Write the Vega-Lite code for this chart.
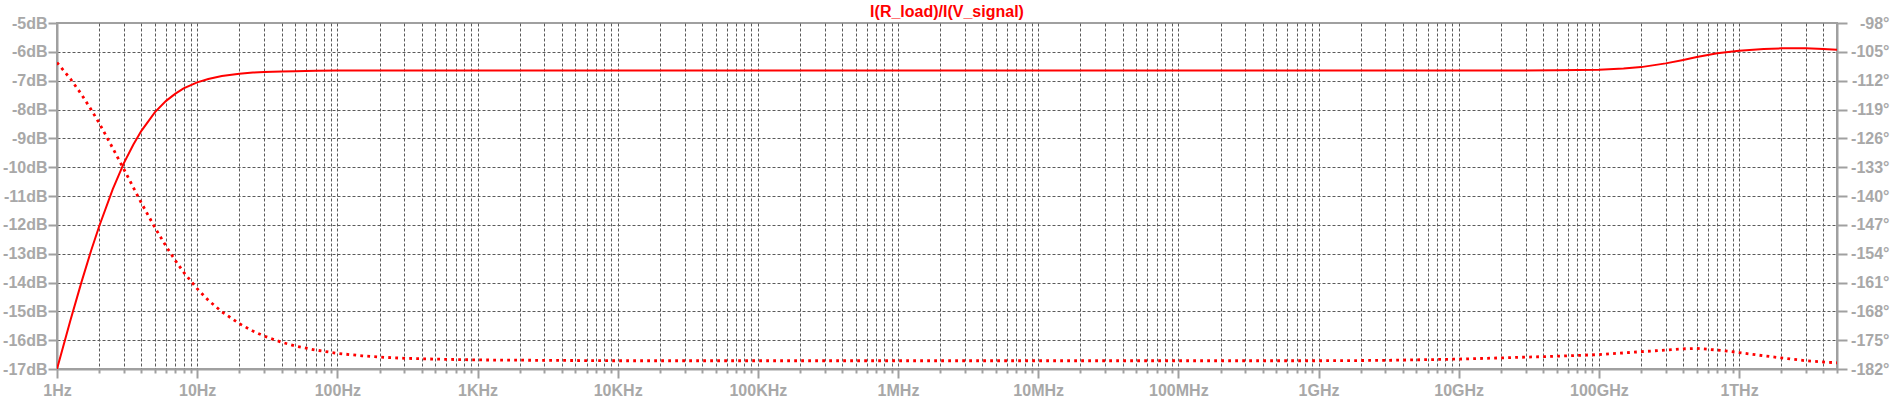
{
  "$schema": "https://vega.github.io/schema/vega-lite/v6.json",
  "width": 1780,
  "height": 346,
  "autosize": {"type": "none"},
  "padding": {"left": 57, "top": 23, "right": 61, "bottom": 32},
  "background": "white",
  "title": {
    "text": "I(R_load)/I(V_signal)",
    "color": "#ff0000",
    "font": "Liberation Sans",
    "fontSize": 16,
    "fontWeight": "bold",
    "anchor": "middle",
    "frame": "group",
    "offset": -5
  },
  "config": {
    "view": {"stroke": "#a0a0a0", "strokeWidth": 2},
    "axis": {
      "labelFont": "Liberation Sans",
      "labelFontSize": 16,
      "labelFontWeight": "bold",
      "labelColor": "#a8a8a8",
      "domainColor": "#a0a0a0",
      "domainWidth": 2,
      "tickColor": "#a0a0a0",
      "tickWidth": 2,
      "gridColor": "#5a5a5a",
      "gridDash": [3, 2],
      "gridWidth": 1,
      "title": null,
      "labelOverlap": false,
      "labelFlush": false
    }
  },
  "data": {
    "values": [
      {"f": 1, "mag": -17.0, "phase": -107.6},
      {"f": 1.25, "mag": -15.29, "phase": -111.6},
      {"f": 1.5, "mag": -13.96, "phase": -115.4},
      {"f": 1.75, "mag": -12.9, "phase": -119.0},
      {"f": 2, "mag": -12.05, "phase": -122.3},
      {"f": 2.5, "mag": -10.76, "phase": -128.4},
      {"f": 3, "mag": -9.86, "phase": -133.5},
      {"f": 3.5, "mag": -9.22, "phase": -137.9},
      {"f": 4, "mag": -8.74, "phase": -141.7},
      {"f": 5, "mag": -8.09, "phase": -147.7},
      {"f": 6, "mag": -7.7, "phase": -152.2},
      {"f": 7, "mag": -7.45, "phase": -155.7},
      {"f": 8, "mag": -7.27, "phase": -158.5},
      {"f": 10, "mag": -7.06, "phase": -162.5},
      {"f": 12, "mag": -6.94, "phase": -165.3},
      {"f": 15, "mag": -6.84, "phase": -168.1},
      {"f": 20, "mag": -6.76, "phase": -171.0},
      {"f": 25, "mag": -6.72, "phase": -172.8},
      {"f": 30, "mag": -6.7, "phase": -174.0},
      {"f": 40, "mag": -6.68, "phase": -175.5},
      {"f": 50, "mag": -6.67, "phase": -176.4},
      {"f": 70, "mag": -6.66, "phase": -177.4},
      {"f": 100, "mag": -6.65, "phase": -178.2},
      {"f": 150, "mag": -6.65, "phase": -178.8},
      {"f": 200, "mag": -6.65, "phase": -179.1},
      {"f": 300, "mag": -6.65, "phase": -179.4},
      {"f": 500, "mag": -6.65, "phase": -179.6},
      {"f": 1000, "mag": -6.65, "phase": -179.8},
      {"f": 10000, "mag": -6.65, "phase": -180.0},
      {"f": 100000, "mag": -6.65, "phase": -180.0},
      {"f": 1000000, "mag": -6.65, "phase": -180.0},
      {"f": 10000000, "mag": -6.65, "phase": -180.0},
      {"f": 100000000, "mag": -6.65, "phase": -180.0},
      {"f": 1000000000, "mag": -6.65, "phase": -180.0},
      {"f": 3000000000, "mag": -6.65, "phase": -179.9},
      {"f": 10000000000, "mag": -6.65, "phase": -179.6},
      {"f": 20000000000, "mag": -6.65, "phase": -179.3},
      {"f": 50000000000, "mag": -6.64, "phase": -178.9},
      {"f": 100000000000, "mag": -6.62, "phase": -178.5},
      {"f": 150000000000, "mag": -6.58, "phase": -178.1},
      {"f": 200000000000, "mag": -6.53, "phase": -177.8},
      {"f": 300000000000, "mag": -6.4, "phase": -177.4},
      {"f": 400000000000, "mag": -6.28, "phase": -177.1},
      {"f": 500000000000, "mag": -6.18, "phase": -177.0},
      {"f": 700000000000, "mag": -6.05, "phase": -177.4},
      {"f": 1000000000000, "mag": -5.96, "phase": -178.0},
      {"f": 1500000000000, "mag": -5.9, "phase": -178.8},
      {"f": 2000000000000, "mag": -5.88, "phase": -179.3},
      {"f": 3000000000000, "mag": -5.88, "phase": -180.0},
      {"f": 4000000000000, "mag": -5.9, "phase": -180.3},
      {"f": 5000000000000, "mag": -5.93, "phase": -180.5}
    ]
  },
  "encoding": {
    "x": {
      "field": "f",
      "type": "quantitative",
      "scale": {"type": "log", "domain": [1, 5000000000000], "nice": false},
      "axis": {
        "values": [1,2,3,4,5,6,7,8,9,10,20,30,40,50,60,70,80,90,100,200,300,400,500,600,700,800,900,1000,2000,3000,4000,5000,6000,7000,8000,9000,10000,20000,30000,40000,50000,60000,70000,80000,90000,100000,200000,300000,400000,500000,600000,700000,800000,900000,1000000,2000000,3000000,4000000,5000000,6000000,7000000,8000000,9000000,10000000,20000000,30000000,40000000,50000000,60000000,70000000,80000000,90000000,100000000,200000000,300000000,400000000,500000000,600000000,700000000,800000000,900000000,1000000000,2000000000,3000000000,4000000000,5000000000,6000000000,7000000000,8000000000,9000000000,10000000000,20000000000,30000000000,40000000000,50000000000,60000000000,70000000000,80000000000,90000000000,100000000000,200000000000,300000000000,400000000000,500000000000,600000000000,700000000000,800000000000,900000000000,1000000000000,2000000000000,3000000000000,4000000000000,5000000000000],
        "labelExpr": "abs(log(datum.value)/LN10 - round(log(datum.value)/LN10)) > 0.0001 ? '' : datum.value >= 1e12 ? format(datum.value/1e12,'d') + 'THz' : datum.value >= 1e9 ? format(datum.value/1e9,'d') + 'GHz' : datum.value >= 1e6 ? format(datum.value/1e6,'d') + 'MHz' : datum.value >= 1e3 ? format(datum.value/1e3,'d') + 'KHz' : format(datum.value,'d') + 'Hz'",
        "tickSize": {"condition": {"test": "abs(log(datum.value)/LN10 - round(log(datum.value)/LN10)) < 0.0001", "value": 9}, "value": 4},
        "gridOpacity": {"condition": {"test": "datum.value <= 1 || datum.value >= 5000000000000", "value": 0}, "value": 1},
        "labelPadding": 4,
        "labelAlign": "center",
        "labelBaseline": "top"
      }
    }
  },
  "layer": [
    {
      "mark": {"type": "line", "color": "#ff0000", "strokeWidth": 2, "clip": true},
      "encoding": {
        "y": {
          "field": "mag",
          "type": "quantitative",
          "scale": {"domain": [-17, -5], "zero": false, "nice": false},
          "axis": {
            "orient": "left",
            "values": [-17,-16,-15,-14,-13,-12,-11,-10,-9,-8,-7,-6,-5],
            "labelExpr": "datum.value + 'dB'",
            "tickSize": 9,
            "labelPadding": 1,
            "gridOpacity": {"condition": {"test": "datum.value <= -17 || datum.value >= -5", "value": 0}, "value": 1}
          }
        }
      }
    },
    {
      "mark": {"type": "line", "color": "#ff0000", "strokeWidth": 2.8, "strokeDash": [2.8, 4.2], "clip": true},
      "encoding": {
        "y": {
          "field": "phase",
          "type": "quantitative",
          "scale": {"domain": [-182, -98], "zero": false, "nice": false},
          "axis": {
            "orient": "right",
            "values": [-182,-175,-168,-161,-154,-147,-140,-133,-126,-119,-112,-105,-98],
            "labelExpr": "datum.value + '°'",
            "tickSize": 10,
            "labelAlign": "right",
            "labelPadding": 42,
            "grid": false
          }
        }
      }
    }
  ],
  "resolve": {"scale": {"y": "independent"}}
}
